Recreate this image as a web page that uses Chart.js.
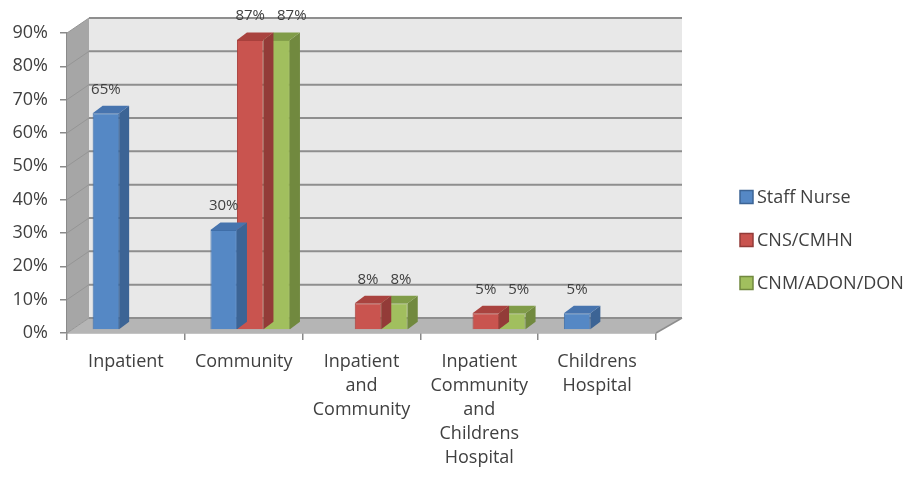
<!DOCTYPE html>
<html>
<head>
<meta charset="utf-8">
<script src="https://cdn.jsdelivr.net/npm/chart.js@4.4.1/dist/chart.umd.min.js"></script>
<style>
  html, body { margin: 0; padding: 0; background: #fff; }
  #wrap { width: 919px; height: 484px; }
</style>
</head>
<body>
<div id="wrap"><canvas id="chart"></canvas></div>
<script>
var categories = [
  ["Inpatient"],
  ["Community"],
  ["Inpatient", "and", "Community"],
  ["Inpatient", "Community", "and", "Childrens", "Hospital"],
  ["Childrens", "Hospital"]
];
var series_names = ["Staff Nurse", "CNS/CMHN", "CNM/ADON/DON"];
var staff_nurse = [65, 30, null, null, 5];
var cns_cmhn = [null, 87, 8, 5, null];
var cnm_adon_don = [null, 87, 8, 5, null];
var y_ticks = [0, 10, 20, 30, 40, 50, 60, 70, 80, 90];

var FONT = "'Open Sans', sans-serif";
var TEXT = "#404040";
var faces = [
  { front: "#5588c5", edge: "#3f6ea8", side: "#3c6495", top: "#4774ae" },
  { front: "#c9544f", edge: "#a8403c", side: "#933b38", top: "#a9433f" },
  { front: "#a1bf5e", edge: "#84a04a", side: "#71893f", top: "#809c48" }
];

// depth of the floor / walls (front plane -> back plane)
var DX = 22, DXR = 26, DY = -15;
// bars sit a bit behind the front plane and have their own depth
var SX = 6.5, SY = -3, BDX = 10, BDY = -7.5;

function y_ticks_values() {
  return y_ticks.map(function (v) { return { value: v }; });
}

var walls = {
  id: "walls",
  beforeDatasetsDraw: function (chart) {
    var ctx = chart.ctx;
    var a = chart.chartArea;
    var ys = chart.scales.y;
    var L = a.left, R = a.right, T = a.top, B = a.bottom;
    ctx.save();
    // back wall
    ctx.fillStyle = "#e8e8e8";
    ctx.fillRect(L + DX, T + DY, (R + DXR) - (L + DX), B - T);
    // left wall
    ctx.fillStyle = "#a6a6a6";
    ctx.beginPath();
    ctx.moveTo(L, T); ctx.lineTo(L + DX, T + DY); ctx.lineTo(L + DX, B + DY); ctx.lineTo(L, B);
    ctx.closePath(); ctx.fill();
    // floor
    ctx.fillStyle = "#b5b5b5";
    ctx.beginPath();
    ctx.moveTo(L, B); ctx.lineTo(R, B); ctx.lineTo(R + DXR, B + DY); ctx.lineTo(L + DX, B + DY);
    ctx.closePath(); ctx.fill();
    // grid lines on back wall and left wall
    y_ticks.forEach(function (v) {
      var y = ys.getPixelForValue(v);
      ctx.strokeStyle = "#8e8e8e";
      ctx.lineWidth = 2;
      ctx.beginPath();
      ctx.moveTo(L + DX, y + DY); ctx.lineTo(R + DXR, y + DY);
      ctx.stroke();
      ctx.strokeStyle = "#959595";
      ctx.lineWidth = 1;
      ctx.beginPath();
      ctx.moveTo(L, y); ctx.lineTo(L + DX, y + DY);
      ctx.stroke();
    });
    // floor right edge
    ctx.strokeStyle = "#8e8e8e";
    ctx.lineWidth = 1.5;
    ctx.beginPath();
    ctx.moveTo(R, B); ctx.lineTo(R + DXR, B + DY);
    ctx.stroke();
    ctx.restore();
  },
  beforeDatasetDraw: function (chart) {
    chart.ctx.save();
    chart.ctx.translate(SX, SY);
  },
  afterDatasetDraw: function (chart, args) {
    var ctx = chart.ctx;
    var ds = chart.data.datasets[args.index];
    var f = faces[args.index];
    args.meta.data.forEach(function (bar, i) {
      if (ds.data[i] == null) return;
      var p = bar.getProps(["x", "y", "base", "width"], true);
      var x0 = p.x - p.width / 2, x1 = p.x + p.width / 2;
      // side
      ctx.fillStyle = f.side;
      ctx.beginPath();
      ctx.moveTo(x1, p.y); ctx.lineTo(x1 + BDX, p.y + BDY);
      ctx.lineTo(x1 + BDX, p.base + BDY); ctx.lineTo(x1, p.base);
      ctx.closePath(); ctx.fill();
      // top
      ctx.fillStyle = f.top;
      ctx.beginPath();
      ctx.moveTo(x0, p.y); ctx.lineTo(x0 + BDX, p.y + BDY);
      ctx.lineTo(x1 + BDX, p.y + BDY); ctx.lineTo(x1, p.y);
      ctx.closePath(); ctx.fill();
    });
    ctx.restore();
  },
  afterDatasetsDraw: function (chart) {
    var ctx = chart.ctx;
    ctx.save();
    ctx.font = "15px " + FONT;
    ctx.fillStyle = TEXT;
    ctx.textAlign = "left";
    ctx.textBaseline = "middle";
    // per category, remember the last label so neighbours on the same line do not collide
    var last = {};
    chart.data.datasets.forEach(function (ds, di) {
      chart.getDatasetMeta(di).data.forEach(function (bar, i) {
        if (ds.data[i] == null) return;
        var txt = ds.data[i] + "%";
        var w = ctx.measureText(txt).width;
        var left = bar.x + SX - w / 2;
        var y = bar.y + SY - 24;
        var prev = last[i];
        if (prev && Math.abs(prev.y - y) < 16 && left < prev.right + 12) left = prev.right + 12;
        ctx.fillText(txt, left, y);
        last[i] = { right: left + w, y: y };
      });
    });
    ctx.restore();
  },
  afterDraw: function (chart) {
    var ctx = chart.ctx;
    ctx.save();
    ctx.font = "18px " + FONT;
    ctx.textBaseline = "middle";
    ctx.textAlign = "left";
    chart.data.datasets.forEach(function (ds, di) {
      var cy = 197 + di * 43;
      ctx.fillStyle = faces[di].front;
      ctx.fillRect(740, cy - 6.5, 13, 13);
      ctx.strokeStyle = faces[di].side;
      ctx.lineWidth = 1.5;
      ctx.strokeRect(740, cy - 6.5, 13, 13);
      ctx.fillStyle = TEXT;
      ctx.fillText(ds.label, 757, cy + 1);
    });
    ctx.restore();
  }
};

var series = [staff_nurse, cns_cmhn, cnm_adon_don];

new Chart(document.getElementById("chart"), {
  type: "bar",
  data: {
    labels: categories,
    datasets: series.map(function (values, i) {
      return {
        label: series_names[i],
        data: values,
        backgroundColor: faces[i].front,
        borderColor: faces[i].edge,
        borderWidth: 1,
        categoryPercentage: 0.675,
        barPercentage: 1,
        clip: false
      };
    })
  },
  options: {
    responsive: true,
    maintainAspectRatio: false,
    animation: false,
    layout: { padding: { left: 0, right: 263, top: 33, bottom: 0 } },
    plugins: {
      legend: { display: false },
      tooltip: { enabled: false }
    },
    scales: {
      x: {
        afterFit: function (s) { s.height = 151; },
        grid: { drawOnChartArea: false, drawTicks: true, tickLength: 7, color: "#8a8a8a", lineWidth: 1.5 },
        border: { display: true, color: "#8a8a8a", width: 1.5 },
        ticks: {
          autoSkip: false, maxRotation: 0, minRotation: 0, padding: 10,
          color: TEXT, font: { family: FONT, size: 18, lineHeight: 1.33 }
        }
      },
      y: {
        min: 0, max: 90,
        afterFit: function (s) { s.width = 67; },
        afterBuildTicks: function (s) { s.ticks = y_ticks_values(); },
        grid: { drawOnChartArea: false, drawTicks: true, tickLength: 7, color: "#8a8a8a", lineWidth: 1.5 },
        border: { display: true, color: "#8a8a8a", width: 1.5 },
        ticks: {
          padding: 12, color: TEXT,
          font: { family: FONT, size: 18 },
          callback: function (v) { return v + "%"; }
        }
      }
    }
  },
  plugins: [walls]
});
</script>
</body>
</html>
